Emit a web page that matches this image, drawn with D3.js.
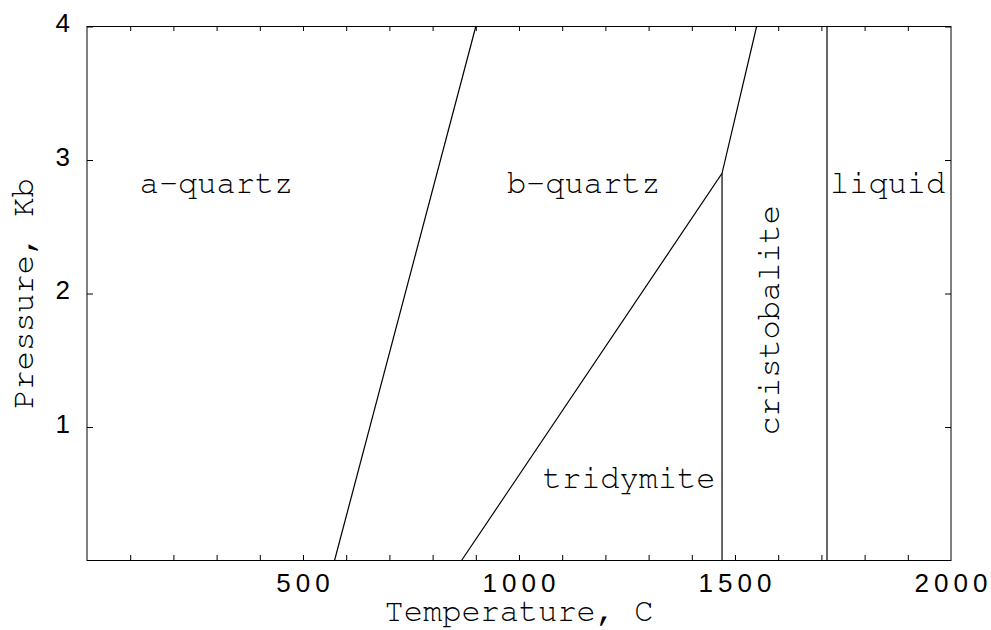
<!DOCTYPE html>
<html>
<head>
<meta charset="utf-8">
<script src="https://cdn.jsdelivr.net/npm/d3@7"></script>
<style>
	body { margin: 0; background: #fff; }
	text { fill: #000; }
</style>
</head>
<body>
<svg id="chart"></svg>
<script>
// phase boundaries, [temperature C, pressure Kb]
var quartzLine = [[573, 0], [900, 4]]
var tridymiteLine = [[867, 0], [1470, 2.9], [1550, 4]]
var cristobaliteLine = [[1470, 0], [1470, 2.9]]
var meltLine = [[1713, 0], [1713, 4]]

var tempTicks = d3.range(100, 2000, 100)
var tempLabels = [500, 1000, 1500, 2000]
var pressureTicks = [1, 2, 3, 4]

var phaseNames = ["a-quartz", "b-quartz", "tridymite", "cristobalite", "liquid"]
var phaseT = [122, 972, 1055, 1601, 1720]
var phaseP = [2.75, 2.75, 0.54, 1.8, 2.75]
var phaseRotated = [false, false, false, true, false]

var dim = {
	width: 991,
	height: 630,
	margin: {top: 26.5, right: 40, bottom: 69.5, left: 87}
}

var svg = d3.select('#chart')
	.attr('width', dim.width)
	.attr('height', dim.height)

var x = d3.scaleLinear()
	.domain([0, 2000])
	.range([dim.margin.left, dim.width - dim.margin.right])

var y = d3.scaleLinear()
	.domain([0, 4])
	.range([dim.height - dim.margin.bottom, dim.margin.top])

var tickFont = "'Liberation Sans', Arial, sans-serif"
var monoFont = "'Nimbus Mono PS', 'Nimbus Mono L', FreeMono, 'Courier New', Courier, 'Liberation Mono', monospace"
var spacing = 5

// frame
svg.append('rect')
	.attr('x', x(0))
	.attr('y', y(4))
	.attr('width', x(2000) - x(0))
	.attr('height', y(0) - y(4))
	.attr('fill', 'none')
	.attr('stroke', '#000')
	.attr('stroke-width', 1)

// inward ticks on all four sides
svg.append('g')
	.attr('transform', 'translate(0,' + (y(0) - 0.5) + ')')
	.call(d3.axisBottom(x).tickValues(tempTicks).tickSize(-5).tickFormat(''))
	.call(g => g.select('.domain').remove())
svg.append('g')
	.attr('transform', 'translate(0,' + (y(4) - 0.5) + ')')
	.call(d3.axisTop(x).tickValues(tempTicks).tickSize(-5).tickFormat(''))
	.call(g => g.select('.domain').remove())
svg.append('g')
	.attr('transform', 'translate(' + x(0) + ',0)')
	.call(d3.axisLeft(y).tickValues(pressureTicks).tickSize(-6).tickFormat(''))
	.call(g => g.select('.domain').remove())
svg.append('g')
	.attr('transform', 'translate(' + x(2000) + ',0)')
	.call(d3.axisRight(y).tickValues(pressureTicks).tickSize(-6).tickFormat(''))
	.call(g => g.select('.domain').remove())
svg.selectAll('.tick line').attr('stroke', '#000')

// tick labels
svg.append('g').selectAll('text')
	.data(tempLabels)
	.enter()
	.append('text')
		.attr('x', d => x(d) + spacing / 2)
		.attr('y', y(0) + 31.5)
		.attr('text-anchor', 'middle')
		.attr('font-family', tickFont)
		.attr('font-size', 26)
		.attr('letter-spacing', spacing)
		.text(d => d)

svg.append('g').selectAll('text')
	.data(pressureTicks)
	.enter()
	.append('text')
		.attr('x', 70)
		.attr('y', d => y(d) + 5.5)
		.attr('text-anchor', 'end')
		.attr('font-family', tickFont)
		.attr('font-size', 26)
		.text(d => d)

// axis titles
svg.append('text')
	.attr('x', (x(0) + x(2000)) / 2)
	.attr('y', 621)
	.attr('text-anchor', 'middle')
	.attr('font-family', monoFont)
	.attr('font-size', 32)
	.text('Temperature, C')

svg.append('text')
	.attr('transform', 'translate(33,' + y(2) + ') rotate(-90)')
	.attr('text-anchor', 'middle')
	.attr('font-family', monoFont)
	.attr('font-size', 32)
	.text('Pressure, Kb')

// boundaries
var line = d3.line()
	.x(d => x(d[0]))
	.y(d => y(d[1]))

svg.selectAll('path.boundary')
	.data([quartzLine, tridymiteLine, cristobaliteLine, meltLine])
	.enter()
	.append('path')
		.attr('class', 'boundary')
		.attr('d', line)
		.attr('fill', 'none')
		.attr('stroke', '#000')
		.attr('stroke-width', 1.2)

// phase labels
svg.append('g').selectAll('text')
	.data(phaseNames)
	.enter()
	.append('text')
		.attr('transform', (d, i) => phaseRotated[i]
			? 'translate(' + x(phaseT[i]) + ',' + y(phaseP[i]) + ') rotate(-90)'
			: 'translate(' + x(phaseT[i]) + ',' + y(phaseP[i]) + ')')
		.attr('text-anchor', (d, i) => phaseRotated[i] ? 'middle' : 'start')
		.attr('font-family', monoFont)
		.attr('font-size', 32)
		.text(d => d)
</script>
</body>
</html>
